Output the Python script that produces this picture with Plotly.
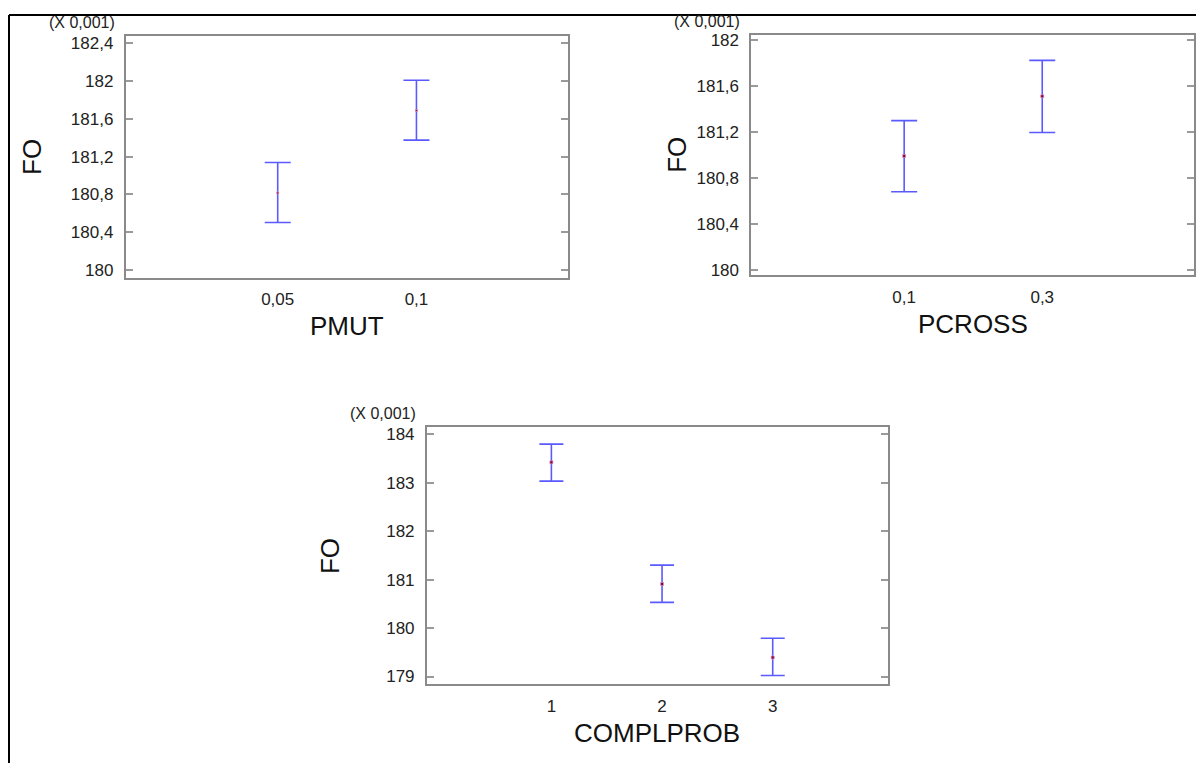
import plotly.graph_objects as go

# ---------------- data ----------------
pmut_cats = ["0,05", "0,1"]
pmut_mean = [180.817, 181.687]
pmut_upper = [181.138, 182.007]
pmut_lower = [180.504, 181.374]

pcross_cats = ["0,1", "0,3"]
pcross_mean = [180.989, 181.508]
pcross_upper = [181.296, 181.820]
pcross_lower = [180.677, 181.193]

compl_cats = ["1", "2", "3"]
compl_mean = [183.420, 180.910, 179.394]
compl_upper = [183.796, 181.298, 179.788]
compl_lower = [183.033, 180.530, 179.020]

pmut_ticks = [180, 180.4, 180.8, 181.2, 181.6, 182, 182.4]
pmut_ticktext = ["180", "180,4", "180,8", "181,2", "181,6", "182", "182,4"]
pcross_ticks = [180, 180.4, 180.8, 181.2, 181.6, 182]
pcross_ticktext = ["180", "180,4", "180,8", "181,2", "181,6", "182"]
compl_ticks = [179, 180, 181, 182, 183, 184]
compl_ticktext = ["179", "180", "181", "182", "183", "184"]

# ---------------- layout helpers (reference pixel -> paper) ----------------
OFF = 8           # default body margin of the html page
W, H = 1204 - 2 * OFF, 771 - 2 * OFF


def PX(x):
    return (x - OFF) / W


def PY(y):
    return 1 - (y - OFF) / H


FONT = "Liberation Sans, Arial, sans-serif"
AXC = "#8a8a8a"
BAR = "rgb(90,90,255)"
DOT = "rgb(120,0,60)"

fig = go.Figure()

panels = [
    dict(cats=pmut_cats, mean=pmut_mean, up=pmut_upper, lo=pmut_lower,
         tv=pmut_ticks, tt=pmut_ticktext, yr=[179.923, 182.47], xr=[-1.095, 2.095],
         box=(126, 569.3, 31.7, 275.7), title="PMUT", xa="x", ya="y", cap=13, fo=94, ms=2),
    dict(cats=pcross_cats, mean=pcross_mean, up=pcross_upper, lo=pcross_lower,
         tv=pcross_ticks, tt=pcross_ticktext, yr=[179.952, 182.037], xr=[-1.106, 2.099],
         box=(752.7, 1196, 30.7, 273.3), title="PCROSS", xa="x2", ya="y2", cap=13, fo=74, ms=3),
    dict(cats=compl_cats, mean=compl_mean, up=compl_upper, lo=compl_lower,
         tv=compl_ticks, tt=compl_ticktext, yr=[178.837, 184.143], xr=[-1.124, 3.04],
         box=(427.7, 889.3, 427.3, 687.5), title="COMPLPROB", xa="x3", ya="y3", cap=12, fo=97, ms=3),
]

annotations = []
for i, p in enumerate(panels):
    err_up = [u - m for u, m in zip(p["up"], p["mean"])]
    err_lo = [m - l for m, l in zip(p["mean"], p["lo"])]
    fig.add_trace(go.Scatter(
        x=p["cats"], y=p["mean"], mode="markers", xaxis=p["xa"], yaxis=p["ya"],
        marker=dict(size=p["ms"], color=DOT, symbol="square",
                    line=dict(width=1, color="rgba(230,150,190,0.7)")),
        error_y=dict(type="data", array=err_up, arrayminus=err_lo, symmetric=False,
                     color=BAR, thickness=1.6, width=p["cap"]),
        showlegend=False, hoverinfo="x+y"))
    x0, x1, y0, y1 = p["box"]
    suffix = "" if i == 0 else str(i + 1)
    fig.layout["xaxis" + suffix] = dict(
        domain=[PX(x0), PX(x1)], anchor="y" + suffix, type="category",
        range=p["xr"], showline=True, mirror=True, linecolor=AXC, linewidth=2,
        ticks="", showgrid=False, zeroline=False, fixedrange=True,
        tickfont=dict(family=FONT, size=17, color="#222"), ticklabelstandoff=5)
    fig.layout["yaxis" + suffix] = dict(
        domain=[PY(y1), PY(y0)], anchor="x" + suffix, range=p["yr"],
        tickmode="array", tickvals=p["tv"], ticktext=p["tt"],
        showline=True, mirror="ticks", linecolor=AXC, linewidth=2,
        ticks="inside", ticklen=7, tickwidth=2, tickcolor="#9a9a9a",
        showgrid=False, zeroline=False, fixedrange=True,
        tickfont=dict(family=FONT, size=17, color="#222"), ticklabelstandoff=7)
    # axis titles
    annotations.append(dict(text=p["title"], x=PX((x0 + x1) / 2), y=PY(y1 + 49),
                            xref="paper", yref="paper", showarrow=False,
                            xanchor="center", yanchor="middle",
                            font=dict(family=FONT, size=26, color="#111")))
    annotations.append(dict(text="FO", x=PX(x0 - p["fo"]), y=PY((y0 + y1) / 2),
                            xref="paper", yref="paper", showarrow=False, textangle=-90,
                            xanchor="center", yanchor="middle",
                            font=dict(family=FONT, size=26, color="#111")))
    annotations.append(dict(text="(X 0,001)", x=PX(x0 - 9), y=PY(y0 - 14),
                            xref="paper", yref="paper", showarrow=False,
                            xanchor="right", yanchor="middle",
                            font=dict(family=FONT, size=16, color="#222")))

shapes = [
    dict(type="line", xref="paper", yref="paper", x0=PX(9), x1=1.02, y0=PY(10), y1=PY(10),
         line=dict(color="black", width=2)),
    dict(type="line", xref="paper", yref="paper", x0=PX(9), x1=PX(9), y0=PY(10), y1=-0.02,
         line=dict(color="black", width=2)),
]

fig.update_layout(
    width=W, height=H, autosize=False,
    margin=dict(l=0, r=0, t=0, b=0),
    paper_bgcolor="white", plot_bgcolor="white",
    annotations=annotations, shapes=shapes,
    font=dict(family=FONT),
)

fig.write_html("out.html", config={"displayModeBar": False})
